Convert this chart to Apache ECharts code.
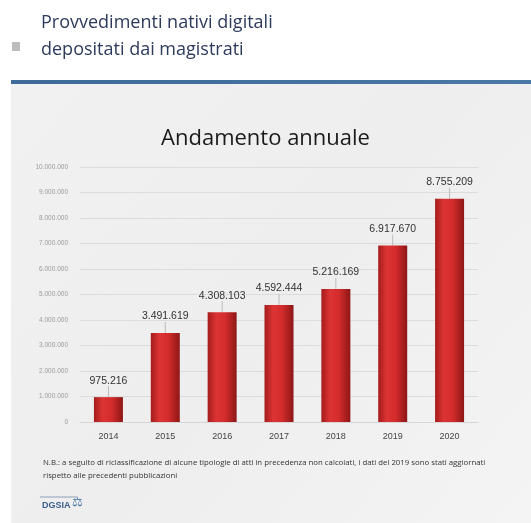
<!DOCTYPE html>
<html><head><meta charset="utf-8">
<script src="https://cdn.jsdelivr.net/npm/echarts@6/dist/echarts.min.js"></script>
<style>html,body{margin:0;padding:0;background:#fff}#c{width:531px;height:523px}</style>
</head><body><div id="c"></div>
<script>
var years = ['2014','2015','2016','2017','2018','2019','2020'];
var values = [975216, 3491619, 4308103, 4592444, 5216169, 6917670, 8755209];
var yTicks = { min: 0, max: 10000000, interval: 1000000 };
var headerLines = ['Provvedimenti nativi digitali', 'depositati dai magistrati'];
var chartTitle = 'Andamento annuale';
var noteLines = ['N.B.: a seguito di riclassificazione di alcune tipologie di atti in precedenza non calcolati, i dati del 2019 sono stati aggiornati',
                 'rispetto alle precedenti pubblicazioni'];

function fmt(v){ return String(Math.round(v)).replace(/\B(?=(\d{3})+(?!\d))/g, '.'); }

var chart = echarts.init(document.getElementById('c'), null, {renderer:'canvas'});
var barColor = new echarts.graphic.LinearGradient(0,0,1,0,[
  {offset:0,color:'#a51c1c'},{offset:0.3,color:'#dc3434'},{offset:0.6,color:'#d42c2c'},{offset:1,color:'#8e1616'}]);
chart.setOption({
  backgroundColor:'#ffffff',
  animation:false,
  graphic:[
    {type:'rect',z:-10,shape:{x:11,y:84,width:520,height:439},style:{fill:new echarts.graphic.LinearGradient(0,0,1,1,[{offset:0,color:'#f1f1f1'},{offset:0.5,color:'#eeeeee'},{offset:1,color:'#f4f4f4'}])}},
    {type:'rect',z:-9,shape:{x:11,y:80,width:520,height:4},style:{fill:new echarts.graphic.LinearGradient(0,0,1,0,[{offset:0,color:'#3d6a98'},{offset:1,color:'#4a78a6'}])}},
    {type:'rect',shape:{x:12,y:42,width:8,height:9},style:{fill:'#bdbdbd'}},
    {type:'text',left:41,top:9,style:{text:headerLines.join('\n'),fill:'#2c3a5c',font:'18px "Open Sans", "Noto Sans", sans-serif',lineHeight:27}},
    {type:'text',left:'center',top:128,style:{text:chartTitle,fill:'#1a1a1a',font:'22px "Open Sans", "Noto Sans", sans-serif'}},
    {type:'text',left:43,top:456,style:{text:noteLines.join('\n'),fill:'#333',font:'7.8px "Open Sans", "Noto Sans", sans-serif',lineHeight:13}},
    {type:'line',shape:{x1:40,y1:497,x2:78,y2:497},style:{stroke:'#8aa0b8',lineWidth:1}},
    {type:'text',left:42,top:501,style:{text:'DGSIA',fill:'#3b5f8c',font:'bold 9px "Liberation Sans", sans-serif'}},
    {type:'text',left:72,top:497,style:{text:'⚖',fill:'#4a78a6',font:'12px "DejaVu Sans", sans-serif'}}
  ],
  grid:{left:80,right:53,top:167,bottom:101},
  xAxis:{type:'category',data:years,
    axisLine:{lineStyle:{color:'#d6d6d6'}},axisTick:{show:false},
    axisLabel:{color:'#444',fontSize:9,margin:10}},
  yAxis:{type:'value',min:yTicks.min,max:yTicks.max,interval:yTicks.interval,
    axisLine:{show:false},axisTick:{show:false},
    splitLine:{lineStyle:{color:'#dcdcdc'}},
    axisLabel:{color:'#9a9a9a',fontSize:6.5,margin:12,formatter:function(v){return fmt(v);}}},
  series:[{type:'bar',data:values,barWidth:29,
    itemStyle:{color:barColor},
    label:{show:true,position:'top',distance:3,color:'#333',fontSize:10.5,
      fontFamily:'"Liberation Sans", sans-serif',
      formatter:function(p){return fmt(p.value);}},
    labelLayout:{dy:-8},
    labelLine:{show:true,lineStyle:{color:'#bbb',width:1}}
  }]
});
</script></body></html>
